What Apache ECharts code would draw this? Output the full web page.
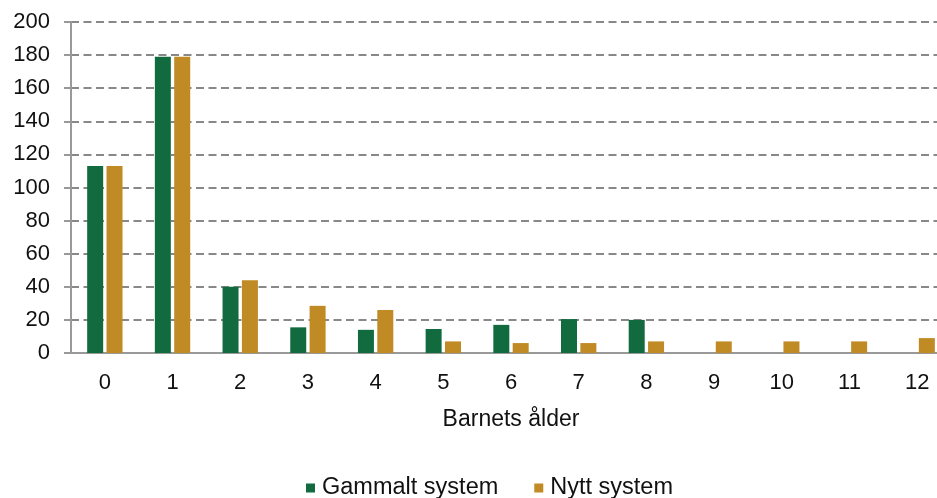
<!DOCTYPE html>
<html>
<head>
<meta charset="utf-8">
<script src="https://cdn.jsdelivr.net/npm/echarts@6.0.0/dist/echarts.min.js"></script>
<style>
  html, body { margin: 0; padding: 0; background: #fff; overflow: hidden; }
  /* the original chart is cut off at the right edge, so the canvas is wider than the window */
  #chart { width: 951px; height: 498px; }
</style>
</head>
<body>
<div id="chart"></div>
<script>
// Barnets ålder, gammalt vs nytt system
var categories = ['0', '1', '2', '3', '4', '5', '6', '7', '8', '9', '10', '11', '12'];
var gammalt = [113, 179, 40, 15.5, 14, 14.5, 17, 20.5, 20, 0, 0, 0, 0];
var nytt = [113, 179, 44, 28.5, 26, 7, 6, 6, 7, 7, 7, 7, 9];
var yTicks = { min: 0, max: 200, interval: 20 };

var GREEN = '#126b3f';
var GOLD = '#c08a24';
var FONT = 'Liberation Sans, Arial, sans-serif';

(function () {
    var chart = echarts.init(document.getElementById('chart'), null, { renderer: 'canvas' });
    var option = {
        animation: false,
        textStyle: { fontFamily: FONT },
        grid: { left: 71, right: 0, top: 22, bottom: 145 },
        legend: {
            top: 471,
            left: 301,
            itemWidth: 9,
            itemHeight: 9,
            itemGap: 36,
            icon: 'rect',
            itemStyle: { borderWidth: 0 },
            textStyle: { fontSize: 23.5, color: '#111', fontFamily: FONT, padding: [0, 0, 0, 2] },
            data: ['Gammalt system', 'Nytt system']
        },
        xAxis: {
            type: 'category',
            data: categories,
            name: 'Barnets ålder',
            nameLocation: 'middle',
            nameGap: 55,
            nameTextStyle: { fontSize: 23, color: '#111', fontFamily: FONT },
            axisLine: { lineStyle: { color: '#999', width: 2 } },
            axisTick: { show: false },
            axisLabel: { fontSize: 22, color: '#111', margin: 19 }
        },
        yAxis: {
            type: 'value',
            min: yTicks.min,
            max: yTicks.max,
            interval: yTicks.interval,
            axisLine: { show: true, lineStyle: { color: '#999', width: 2 } },
            axisTick: { show: true, length: 7, lineStyle: { color: '#999', width: 2 } },
            axisLabel: { fontSize: 22, color: '#111', margin: 21 },
            splitLine: { lineStyle: { color: '#888', width: 2, type: [8, 4.5] } }
        },
        series: [
            {
                name: 'Gammalt system',
                type: 'bar',
                data: gammalt,
                barWidth: 16,
                barGap: '21%',
                itemStyle: { color: GREEN }
            },
            {
                name: 'Nytt system',
                type: 'bar',
                data: nytt,
                barWidth: 16,
                itemStyle: { color: GOLD }
            }
        ]
    };
    chart.setOption(option);
})();
</script>
</body>
</html>
